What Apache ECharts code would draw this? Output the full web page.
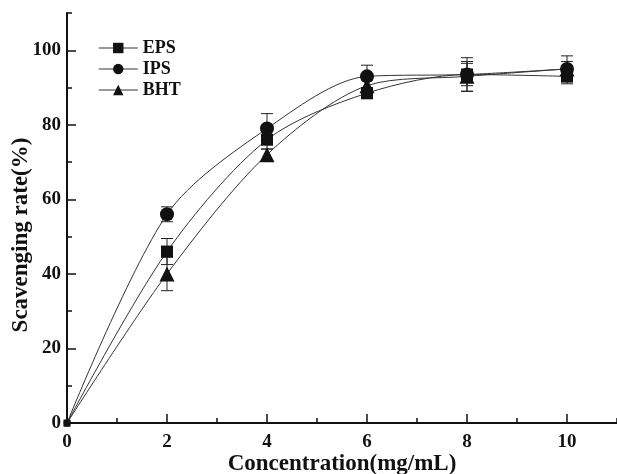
<!DOCTYPE html>
<html>
<head>
<meta charset="utf-8">
<script src="https://cdn.jsdelivr.net/npm/echarts@6/dist/echarts.min.js"></script>
<style>
  html, body { margin: 0; padding: 0; background: #fff; }
  #chart { width: 617px; height: 474px; }
</style>
</head>
<body>
<div id="chart"></div>
<script>
// Concentration (mg/mL)
var concentrations = [0, 2, 4, 6, 8, 10];

// Scavenging rate (%) for each sample
var epsRate = [0, 46, 76, 88.5, 93.5, 93];
var ipsRate = [0, 56, 79, 93, 93.5, 95];
var bhtRate = [0, 40, 72, 90.5, 93, 95];

// Standard deviations (%)
var epsErr = [0, 3.5, 2.5, 1.5, 3, 2];
var ipsErr = [0, 2, 4, 3, 4.5, 3.5];
var bhtErr = [0, 4.5, 1.5, 1.5, 4, 2];

// Axis tick labels
var xMajorTicks = [0, 2, 4, 6, 8, 10];
var yMajorTicks = [0, 20, 40, 60, 80, 100];

var FONT = '"Liberation Serif", "Times New Roman", serif';

function pairs(values) {
  return concentrations.map(function (c, i) { return [c, values[i]]; });
}
function errorRows(values, errs) {
  return concentrations.map(function (c, i) {
    return [c, values[i] - errs[i], values[i] + errs[i]];
  });
}

function lineSeries(name, values, symbol, size) {
  return {
    name: name,
    type: 'line',
    data: pairs(values),
    smooth: 0.3,
    symbol: symbol,
    // the marker at the origin sits on the axes and shows only a small corner
    symbolSize: function (v) { return v[0] === 0 ? 7 : size; },
    showAllSymbol: true,
    lineStyle: { color: '#333', width: 1 },
    itemStyle: { color: '#111', opacity: 1 },
    z: 3
  };
}

function errorSeries(values, errs) {
  return {
    type: 'custom',
    data: errorRows(values, errs),
    renderItem: function (params, api) {
      var x = api.value(0);
      if (api.value(2) - api.value(1) <= 0) return null;
      var lo = api.coord([x, api.value(1)]);
      var hi = api.coord([x, api.value(2)]);
      var half = 6;
      var style = { stroke: '#222', lineWidth: 1 };
      return {
        type: 'group',
        children: [
          { type: 'line', shape: { x1: hi[0], y1: hi[1], x2: lo[0], y2: lo[1] }, style: style },
          { type: 'line', shape: { x1: hi[0] - half, y1: hi[1], x2: hi[0] + half, y2: hi[1] }, style: style },
          { type: 'line', shape: { x1: lo[0] - half, y1: lo[1], x2: lo[0] + half, y2: lo[1] }, style: style }
        ]
      };
    },
    encode: { x: 0, y: [1, 2] },
    z: 2,
    silent: true
  };
}

var labelStyle = { color: '#111', fontFamily: FONT, fontWeight: 'bold', fontSize: 19 };
var axisLineStyle = { show: true, lineStyle: { color: '#111', width: 2 } };
var titleStyle = { color: '#111', fontFamily: FONT, fontWeight: 'bold', fontSize: 23 };

var chart = echarts.init(document.getElementById('chart'));
chart.setOption({
  animation: false,
  backgroundColor: '#fff',
  grid: { left: 67, right: 0, top: 13, bottom: 51, containLabel: false, outerBoundsMode: 'none' },
  legend: {
    orient: 'vertical',
    left: 98,
    top: 39,
    padding: 0,
    itemWidth: 39,
    itemHeight: 13,
    itemGap: 3,
    data: ['EPS', 'IPS', 'BHT'],
    textStyle: { color: '#111', fontFamily: FONT, fontWeight: 'bold', fontSize: 18 },
    lineStyle: { color: '#777', width: 1.5 }
  },
  xAxis: [
    {
      // minor ticks every 1 mg/mL
      type: 'value', min: 0, max: 11, interval: 1,
      axisLine: axisLineStyle,
      axisTick: { show: true, inside: true, length: 5, lineStyle: { color: '#111', width: 1.5 } },
      axisLabel: { show: false },
      splitLine: { show: false }
    },
    {
      // labelled ticks
      type: 'value', min: 0, max: 11, interval: 2, position: 'bottom',
      axisLine: { show: false },
      axisTick: { show: true, inside: true, length: 9, customValues: xMajorTicks, lineStyle: { color: '#111', width: 1.5 } },
      axisLabel: Object.assign({ margin: 10, customValues: xMajorTicks }, labelStyle),
      splitLine: { show: false },
      name: 'Concentration(mg/mL)',
      nameLocation: 'middle',
      nameGap: 30,
      nameMoveOverlap: false,
      nameTextStyle: titleStyle
    }
  ],
  yAxis: [
    {
      type: 'value', min: 0, max: 110, interval: 10,
      axisLine: axisLineStyle,
      axisTick: { show: true, inside: true, length: 5, lineStyle: { color: '#111', width: 1.5 } },
      axisLabel: { show: false },
      splitLine: { show: false }
    },
    {
      type: 'value', min: 0, max: 110, interval: 20, position: 'left',
      axisLine: { show: false },
      axisTick: { show: true, inside: true, length: 9, customValues: yMajorTicks, lineStyle: { color: '#111', width: 1.5 } },
      axisLabel: Object.assign({ margin: 6, customValues: yMajorTicks }, labelStyle),
      splitLine: { show: false },
      name: 'Scavenging rate(%)',
      nameLocation: 'middle',
      nameGap: 34,
      nameMoveOverlap: false,
      nameTextStyle: Object.assign({ padding: [0, 34, 0, 0] }, titleStyle)
    }
  ],
  series: [
    errorSeries(epsRate, epsErr),
    errorSeries(ipsRate, ipsErr),
    errorSeries(bhtRate, bhtErr),
    lineSeries('EPS', epsRate, 'rect', 12),
    lineSeries('IPS', ipsRate, 'circle', 14),
    lineSeries('BHT', bhtRate, 'triangle', 15)
  ]
});
</script>
</body>
</html>
